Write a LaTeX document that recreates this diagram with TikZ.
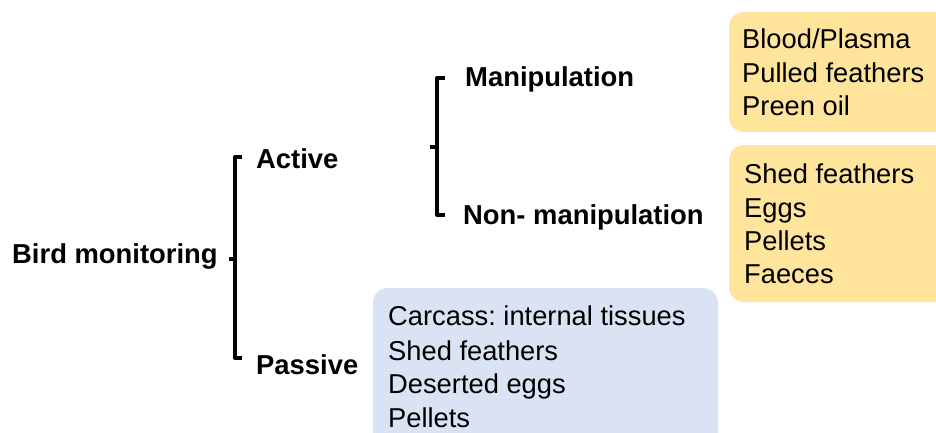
\documentclass[tikz,border=0pt]{standalone}
\usepackage{fontspec}
\setmainfont{Liberation Sans}
\frenchspacing
\definecolor{boxyellow}{HTML}{FFE49C}
\definecolor{boxblue}{HTML}{DAE3F3}
\tikzset{
  lbl/.style={anchor=base west, inner sep=0pt, font=\fontsize{27.4}{32}\selectfont\bfseries},
  item/.style={anchor=base west, inner sep=0pt, font=\fontsize{27.3}{32}\selectfont},
  bracketline/.style={line width=4pt, line join=round, black},
  yellowbox/.style={fill=boxyellow, rounded corners=15pt, draw=none},
  bluebox/.style={fill=boxblue, rounded corners=15pt, draw=none}
}
\begin{document}
\begin{tikzpicture}[x=1pt,y=-1pt]
\useasboundingbox (0,0) rectangle (936,432);
\clip (0,0) rectangle (936,432);
% boxes
\fill[yellowbox] (729,12) rectangle (960,132);
\fill[yellowbox] (729,145) rectangle (960,302);
\fill[bluebox] (373,288) rectangle (718,460);
% labels
\node[lbl] (bird) at (12,263) {Bird monitoring};
\node[lbl] (active) at (256,168) {Active};
\node[lbl] (passive) at (256,374) {Passive};
\node[lbl] (manip) at (465,86) {Manipulation};
\node[lbl] (nonmanip) at (463,224) {Non- manipulation};
% bracket 1
\coordinate (b1t) at (242,157);
\coordinate (b1b) at (242,358);
\coordinate (b1m) at (235,259);
\coordinate (b1k) at (229,259);
\draw[bracketline] (b1t) -- (235,157) -- (235,358) -- (b1b);
\draw[bracketline] (b1m) -- (b1k);
% bracket 2
\coordinate (b2t) at (445,78);
\coordinate (b2b) at (445,215);
\coordinate (b2m) at (437,147);
\coordinate (b2k) at (430,147);
\draw[bracketline] (b2t) -- (437,78) -- (437,215) -- (b2b);
\draw[bracketline] (b2m) -- (b2k);
% yellow box 1 items
\node[item] (y1a) at (742,48) {Blood/Plasma};
\node[item] (y1b) at (742,82) {Pulled feathers};
\node[item] (y1c) at (742,115) {Preen oil};
% yellow box 2 items
\node[item] (y2a) at (744,183) {Shed feathers};
\node[item] (y2b) at (744,217) {Eggs};
\node[item] (y2c) at (744,250) {Pellets};
\node[item] (y2d) at (744,283) {Faeces};
% blue box items
\node[item] (p1) at (388,325) {Carcass: internal tissues};
\node[item] (p2) at (388,360) {Shed feathers};
\node[item] (p3) at (388,393) {Deserted eggs};
\node[item] (p4) at (388,427) {Pellets};
\end{tikzpicture}
\end{document}
